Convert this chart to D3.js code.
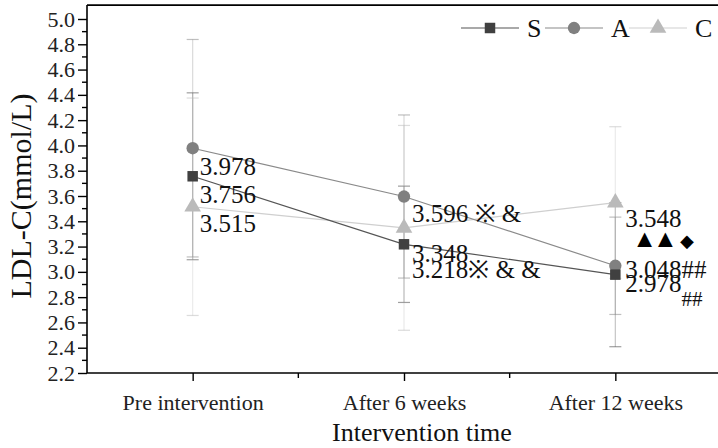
<!DOCTYPE html>
<html>
<head>
<meta charset="utf-8">
<script src="https://cdn.jsdelivr.net/npm/d3@7"></script>
<style>
  body { margin: 0; background: #fff; }
  text { font-family: "Liberation Serif", "Times New Roman", serif; }
</style>
</head>
<body>
<svg id="chart" width="718" height="448"></svg>
<script>
// data
var times = ["Pre intervention", "After 6 weeks", "After 12 weeks"];
var seriesNames = ["S", "A", "C"];
var sMean = [3.756, 3.218, 2.978];
var aMean = [3.978, 3.596, 3.048];
var cMean = [3.515, 3.348, 3.548];
var sErr = [0.66, 0.46, 0.57];
var aErr = [0.86, 0.645, 0.385];
var cErr = [0.86, 0.81, 0.60];
var sLabels = ["3.756", "3.218※ & &", "2.978"];
var sSub = ["", "", "##"];
var aLabels = ["3.978", "3.596 ※ &", "3.048##"];
var cLabels = ["3.515", "3.348", "3.548"];
var yTicks = [2.2, 2.4, 2.6, 2.8, 3.0, 3.2, 3.4, 3.6, 3.8, 4.0, 4.2, 4.4, 4.6, 4.8, 5.0];

var svg = d3.select("#chart");

var x = d3.scaleLinear().domain([0.5, 3.5]).range([87, 721]);
var y = d3.scaleLinear().domain([2.2, 5.0]).range([373, 19]);

// label placement below/right of each point (pixels)
var labelDx = [7, 8, 10];
var series = [
  {name: "S", mean: sMean, err: sErr, labels: sLabels, dy: [27, 34, 17], fill: "#404040", line: "#555", shape: "square"},
  {name: "A", mean: aMean, err: aErr, labels: aLabels, dy: [27, 25, 12], fill: "#808080", line: "#8a8a8a", shape: "circle"},
  {name: "C", mean: cMean, err: cErr, labels: cLabels, dy: [25, 34, 24], fill: "#bababa", line: "#cfcfcf", shape: "triangle"}
];

function symbolFor(shape) {
  if (shape == "square") return d3.symbol().type(d3.symbolSquare).size(110);
  if (shape == "circle") return d3.symbol().type(d3.symbolCircle).size(120);
  return d3.symbol().type(d3.symbolTriangle).size(120);
}

// frame top line
svg.append("line")
  .attr("x1", x(0.5)).attr("x2", 718)
  .attr("y1", y(5.11)).attr("y2", y(5.11))
  .attr("stroke", "#000").attr("stroke-width", 1.6);

// error bars
series.forEach(function(s) {
  var g = svg.append("g");
  s.mean.forEach(function(m, i) {
    var cx = x(i + 1);
    g.append("line")
      .attr("x1", cx).attr("x2", cx)
      .attr("y1", y(m + s.err[i])).attr("y2", y(m - s.err[i]))
      .attr("stroke", s.fill).attr("stroke-opacity", 0.3).attr("stroke-width", 1.2);
    [m + s.err[i], m - s.err[i]].forEach(function(v) {
      g.append("line")
        .attr("x1", cx - 6).attr("x2", cx + 6)
        .attr("y1", y(v)).attr("y2", y(v))
        .attr("stroke", s.fill).attr("stroke-opacity", 0.5).attr("stroke-width", 1.2);
    });
  });
});

// lines
var line = d3.line()
  .x(function(d, i) { return x(i + 1); })
  .y(function(d) { return y(d); });

series.slice().reverse().forEach(function(s) {
  svg.append("path")
    .datum(s.mean)
    .attr("d", line)
    .attr("fill", "none")
    .attr("stroke", s.line)
    .attr("stroke-width", 1.2);
});

// markers
series.slice().reverse().forEach(function(s) {
  svg.append("g").selectAll("path")
    .data(s.mean)
    .enter()
    .append("path")
    .attr("d", symbolFor(s.shape))
    .attr("transform", function(d, i) { return "translate(" + x(i + 1) + "," + y(d) + ")"; })
    .attr("fill", s.fill);
});

// value labels
series.forEach(function(s) {
  var t = svg.append("g").selectAll("text")
    .data(s.mean)
    .enter()
    .append("text")
    .attr("x", function(d, i) { return x(i + 1) + labelDx[i]; })
    .attr("y", function(d, i) { return y(d) + s.dy[i]; })
    .attr("font-size", 25)
    .attr("fill", "#111")
    .text(function(d, i) { return s.labels[i]; });
  if (s.name == "S") {
    t.append("tspan").attr("dy", 14).attr("font-size", 21)
      .text(function(d, i) { return sSub[i]; });
  }
});
var marks = svg.append("text")
  .attr("x", x(3) + 17).attr("y", y(cMean[2]) + 44)
  .attr("font-size", 25).attr("font-family", "DejaVu Sans")
  .attr("letter-spacing", -4)
  .attr("fill", "#000")
  .text("▲▲");
marks.append("tspan").attr("font-size", 18).attr("dx", 6).text("◆");

// axes
var yAxis = d3.axisLeft(y).tickValues(yTicks).tickSize(9).tickFormat(d3.format(".1f"));
var yg = svg.append("g").attr("transform", "translate(" + x(0.5) + ",0)").call(yAxis);
yg.select(".domain").attr("d", "M0," + y(5.11) + "V" + y(2.2)).attr("stroke-width", 1.6);
yg.selectAll(".tick text").attr("font-size", 22).attr("font-family", "Liberation Serif").attr("fill", "#222");
yg.selectAll(".tick line").attr("stroke-width", 1.4);
yg.selectAll(".minor")
  .data(yTicks.slice(0, -1).map(function(v) { return v + 0.1; }))
  .enter().append("line")
  .attr("x1", -5).attr("x2", 0)
  .attr("y1", function(d) { return y(d); }).attr("y2", function(d) { return y(d); })
  .attr("stroke", "#000").attr("stroke-width", 1.4);

var xAxis = d3.axisBottom(x).tickValues([1, 2, 3]).tickSize(8)
  .tickFormat(function(d) { return times[d - 1]; });
var xg = svg.append("g").attr("transform", "translate(0," + y(2.2) + ")").call(xAxis);
xg.select(".domain").attr("d", "M" + x(0.5) + ",0H" + 720).attr("stroke-width", 1.6);
xg.selectAll(".tick text").attr("font-size", 22).attr("font-family", "Liberation Serif").attr("fill", "#222").attr("dy", "1.2em");
xg.selectAll(".tick line").attr("stroke-width", 1.4);
xg.selectAll(".minor")
  .data([1.5, 2.5])
  .enter().append("line")
  .attr("x1", function(d) { return x(d); }).attr("x2", function(d) { return x(d); })
  .attr("y1", 0).attr("y2", 5)
  .attr("stroke", "#000").attr("stroke-width", 1.4);

// axis titles
svg.append("text")
  .attr("x", x(2) + 18).attr("y", 441)
  .attr("text-anchor", "middle").attr("font-size", 26).attr("fill", "#111")
  .text("Intervention time");
svg.append("text")
  .attr("transform", "translate(31," + y(3.6) + ") rotate(-90)")
  .attr("text-anchor", "middle").attr("font-size", 30).attr("fill", "#111")
  .text("LDL-C(mmol/L)");

// legend
var lg = svg.append("g").attr("transform", "translate(461,28)");
series.forEach(function(s, i) {
  var ox = i * 84;
  lg.append("line").attr("x1", ox).attr("x2", ox + 58).attr("y1", 0).attr("y2", 0)
    .attr("stroke", s.line).attr("stroke-width", 1.2);
  lg.append("path").attr("d", symbolFor(s.shape)).attr("transform", "translate(" + (ox + 29) + ",0)")
    .attr("fill", s.fill);
  lg.append("text").attr("x", ox + 66).attr("y", 9).attr("font-size", 26).attr("fill", "#111")
    .text(seriesNames[i]);
});
</script>
</body>
</html>
